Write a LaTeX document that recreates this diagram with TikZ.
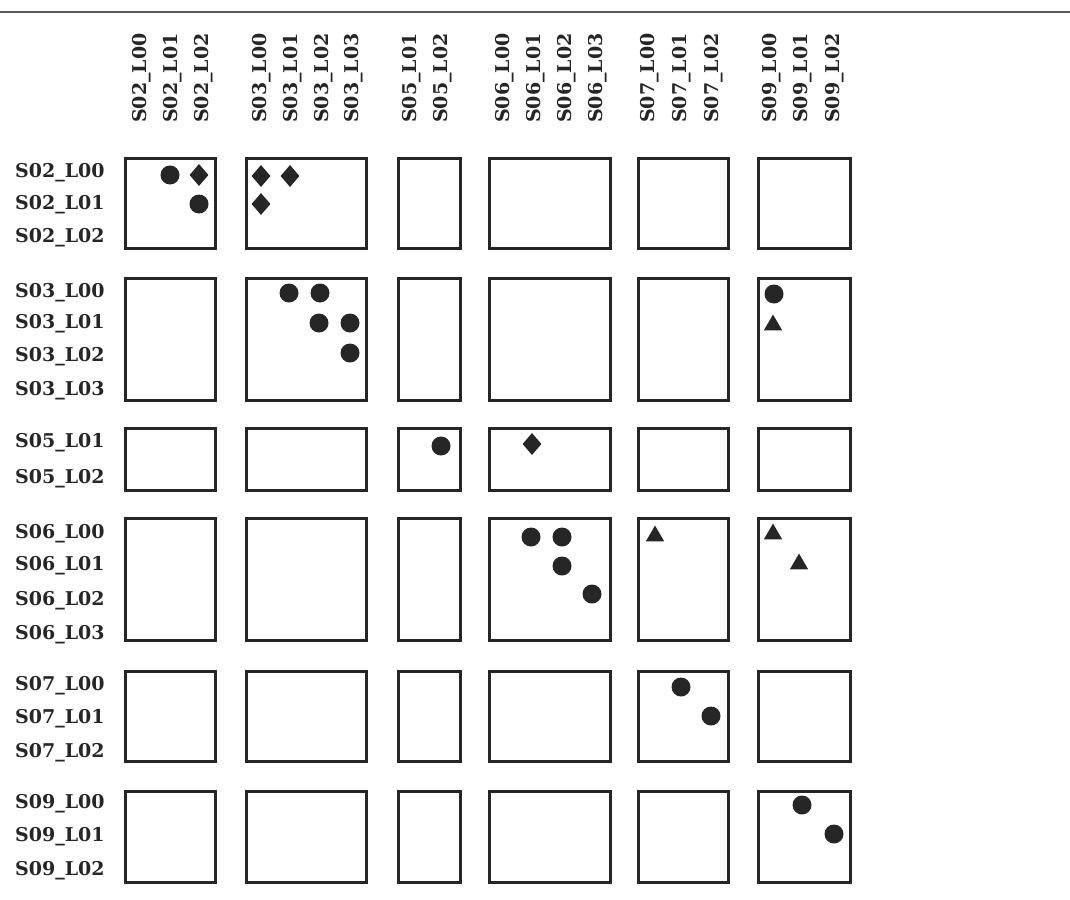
\documentclass[tikz,border=0pt]{standalone}
\usepackage{fontspec}
\setmainfont{DejaVu Serif}
\usetikzlibrary{shapes.geometric}
\begin{document}
\begin{tikzpicture}[x=1pt,y=-1pt,
  lbl/.style={font=\fontsize{19}{19}\selectfont\bfseries, text=black!85, inner sep=0pt},
  collbl/.style={lbl, rotate=90, anchor=west},
  rowlbl/.style={lbl, anchor=west},
  blockbox/.style={draw=black!85, line width=3pt},
  dot/.style={circle, fill=black!85, inner sep=0pt, minimum size=19pt},
  diam/.style={diamond, fill=black!85, inner sep=0pt, minimum width=19pt, minimum height=22pt},
  tri/.style={regular polygon, regular polygon sides=3, fill=black!85, inner sep=0pt, minimum size=21pt}]
\useasboundingbox (0,0) rectangle (1070,899);
\coordinate (tl) at (0,12);
\coordinate (tr) at (1070,12);
\draw[black!65, line width=2.4pt] (tl) -- (tr);
% column labels
\foreach \n/\x in {S02_L00/142, S02_L01/173, S02_L02/204,
                   S03_L00/262, S03_L01/293, S03_L02/324, S03_L03/354,
                   S05_L01/412, S05_L02/443,
                   S06_L00/505, S06_L01/536, S06_L02/567, S06_L03/598,
                   S07_L00/650, S07_L01/682, S07_L02/714,
                   S09_L00/772, S09_L01/803, S09_L02/835}
  \node[collbl] (c\n) at (\x,123) {\detokenize\expandafter{\n}};
% row labels
\foreach \n/\y in {S02_L00/173, S02_L01/205, S02_L02/238,
                   S03_L00/293, S03_L01/324, S03_L02/357, S03_L03/391,
                   S05_L01/443, S05_L02/479,
                   S06_L00/534, S06_L01/566, S06_L02/601, S06_L03/635,
                   S07_L00/686, S07_L01/719, S07_L02/753,
                   S09_L00/804, S09_L01/837, S09_L02/871}
  \node[rowlbl] (r\n) at (15,\y) {\detokenize\expandafter{\n}};
% blocks
\foreach \r/\ya/\yb in {S02/158/248, S03/278/400, S05/428/490, S06/518/640, S07/671/761, S09/791/882}
  \foreach \c/\xa/\xb in {S02/125/215, S03/246/366, S05/398/460, S06/489/610, S07/638/728, S09/758/850}
    \draw[blockbox] (\xa,\ya) rectangle (\xb,\yb) node[coordinate] (b\r\c) {};
% markers
\node[dot]  (m1)  at (170,175) {};
\node[diam] (m2)  at (199,175) {};
\node[dot]  (m3)  at (199,204) {};
\node[diam] (m4)  at (261,176) {};
\node[diam] (m5)  at (290,176) {};
\node[diam] (m6)  at (261,204) {};
\node[dot]  (m7)  at (289,293) {};
\node[dot]  (m8)  at (320,293) {};
\node[dot]  (m9)  at (319,323) {};
\node[dot]  (m10) at (350,323) {};
\node[dot]  (m11) at (350,353) {};
\node[dot]  (m12) at (774,294) {};
\node[tri]  (m13) at (773,325) {};
\node[dot]  (m14) at (441,446) {};
\node[diam] (m15) at (532,444) {};
\node[dot]  (m16) at (531,537) {};
\node[dot]  (m17) at (562,537) {};
\node[dot]  (m18) at (562,566) {};
\node[dot]  (m19) at (592,594) {};
\node[tri]  (m20) at (655,536) {};
\node[tri]  (m21) at (773,534) {};
\node[tri]  (m22) at (799,564) {};
\node[dot]  (m23) at (681,687) {};
\node[dot]  (m24) at (711,716) {};
\node[dot]  (m25) at (802,805) {};
\node[dot]  (m26) at (834,834) {};
\end{tikzpicture}
\end{document}
